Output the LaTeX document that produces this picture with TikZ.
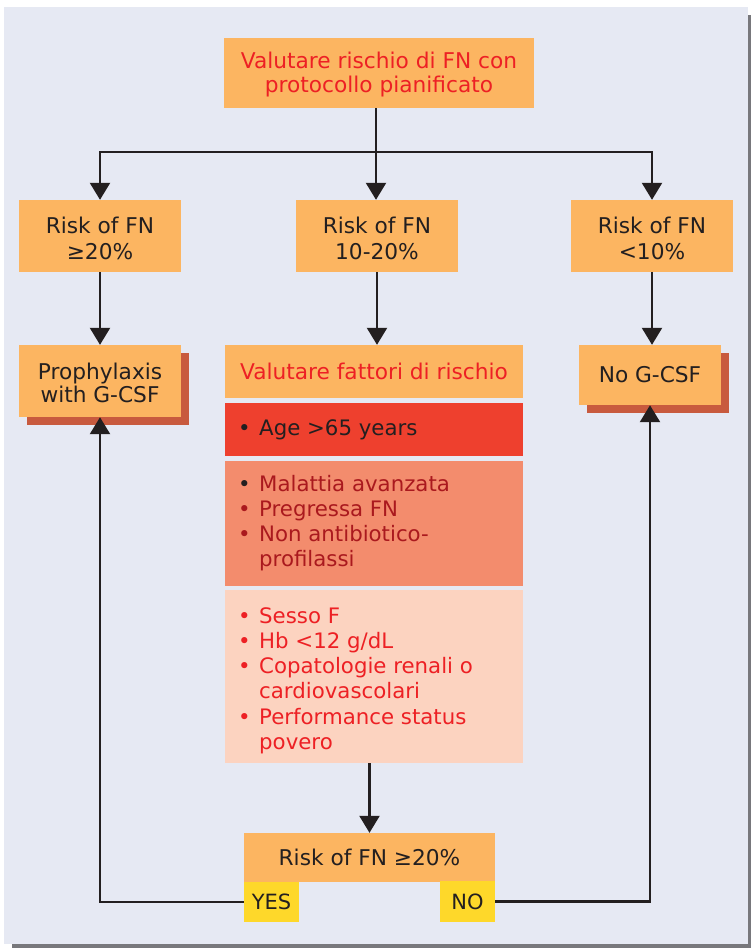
\documentclass[tikz,border=0pt]{standalone}
\usepackage{fontspec}
\setmainfont{DejaVu Sans}
\usetikzlibrary{arrows.meta,shadows}
\definecolor{panel}{RGB}{230,233,243}
\definecolor{panelshadow}{RGB}{120,120,124}
\definecolor{orng}{RGB}{252,181,97}
\definecolor{redbox}{RGB}{238,64,46}
\definecolor{salmon}{RGB}{243,140,109}
\definecolor{pinkbox}{RGB}{252,211,192}
\definecolor{shadowc}{RGB}{200,90,62}
\definecolor{yel}{RGB}{254,216,42}
\definecolor{txtred}{RGB}{237,32,36}
\definecolor{txtdark}{RGB}{35,31,32}
\definecolor{txtmaroon}{RGB}{170,25,30}
\newcommand{\bl}{\makebox[21pt][l]{\textbullet}}
\newcommand{\ind}{\hspace*{21pt}}
\begin{document}
\begin{tikzpicture}[x=1pt,y=-1pt,
 box/.style={fill=orng, inner sep=0pt, align=center, text=txtdark, font=\fontsize{21.7}{26}\selectfont},
 twoline/.style={text depth=0pt, font=\fontsize{21.7}{#1}\selectfont},
 shbox/.style={box, drop shadow={shadow xshift=8pt, shadow yshift=-8pt, fill=shadowc, opacity=1}},
 listbox/.style={inner sep=0pt, minimum width=298pt},
 listtext/.style={inner sep=0pt, anchor=base west, font=\fontsize{21.3}{25.3}\selectfont},
 tag/.style={fill=yel, inner sep=0pt, text=txtdark, font=\fontsize{21}{24}\selectfont, minimum width=55pt},
 arr/.style={draw=txtdark, line width=2.3pt, -{Triangle[width=20pt,length=17pt]}},
 ln/.style={draw=txtdark, line width=2.3pt}]

\useasboundingbox (0,0) rectangle (751,948);
\fill[white] (0,0) rectangle (751,948);
\fill[panelshadow] (12,15) rectangle (751,948);
\fill[panel] (4,7) rectangle (748,944);

% top box
\node[box, twoline=24, text height=38.6pt, text=txtred, minimum width=310pt, minimum height=70pt] (top) at (379,73) {Valutare rischio di FN con\\protocollo pianificato};

% row 2
\node[box, twoline=26, text height=46pt, minimum width=162pt, minimum height=72pt] (r1) at (100,236) {Risk of FN\\≥20\%};
\node[box, twoline=26, text height=46pt, minimum width=162pt, minimum height=72pt] (r2) at (377,236) {Risk of FN\\10-20\%};
\node[box, twoline=26, text height=46pt, minimum width=162pt, minimum height=72pt] (r3) at (652,236) {Risk of FN\\<10\%};

% row 3
\node[shbox, twoline=23, text height=42pt, minimum width=162pt, minimum height=72pt] (proph) at (100,381) {Prophylaxis\\with G-CSF};
\node[box, text=txtred, minimum width=298pt, minimum height=53pt] (eval) at (374,371.5) {Valutare fattori di rischio};
\node[shbox, minimum width=142pt, minimum height=60pt] (nog) at (650,375) {No G-CSF};

% risk factor lists
\node[listbox, fill=redbox, minimum height=53pt] (redb) at (374,429.5) {};
\node[listbox, fill=salmon, minimum height=125pt] (salm) at (374,523.5) {};
\node[listbox, fill=pinkbox, minimum height=173pt] (pink) at (374,676.5) {};

\node[listtext, text=txtdark] (t1) at (238,435) {\begin{tabular}[t]{@{}l@{}}\bl Age >65 years\end{tabular}};
\node[listtext, text=txtmaroon] (t2) at (238,491) {\begin{tabular}[t]{@{}l@{}}{\color{txtdark}\bl}Malattia avanzata\\\bl Pregressa FN\\\bl Non antibiotico-\\\ind profilassi\end{tabular}};
\node[listtext, text=txtred] (t3) at (238,623) {\begin{tabular}[t]{@{}l@{}}\bl Sesso F\\\bl Hb <12 g/dL\\\bl Copatologie renali o\\\ind cardiovascolari\\\bl Performance status\\\ind povero\end{tabular}};

% bottom decision
\node[box, minimum width=251pt, minimum height=49pt] (bot) at (369.5,857.5) {Risk of FN ≥20\%};
\node[tag, minimum height=40pt] (yes) at (271.5,902) {YES};
\node[tag, minimum height=41pt] (no) at (467.5,901.5) {NO};

% connectors
\coordinate (split) at (376,152);
\draw[ln] (top.south -| split) -- (split);
\draw[arr] (split) -| (r1.north);
\draw[arr] (split) -- (split |- r2.north);
\draw[arr] (split) -| (r3.north);
\draw[arr] (r1.south) -- (proph.north);
\draw[arr] (r2.south) -- (r2.south |- eval.north);
\draw[arr] (r3.south) -- (r3.south |- nog.north);
\draw[arr] (bot.north |- pink.south) -- (bot.north);
\draw[arr] (yes.west) -| (proph.south);
\draw[arr] (no.east) -| (nog.south);
\end{tikzpicture}
\end{document}
